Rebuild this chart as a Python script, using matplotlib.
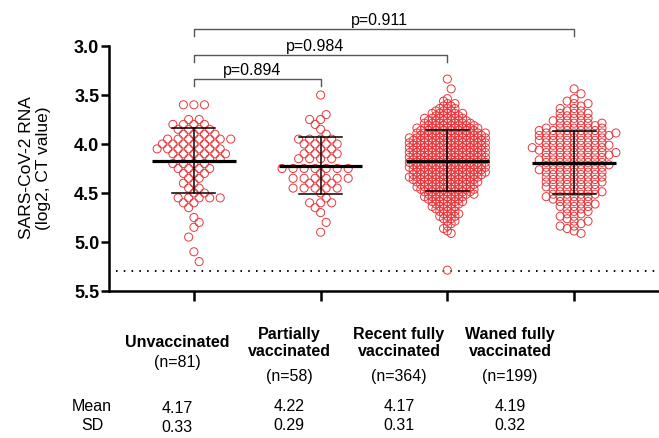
import matplotlib
matplotlib.use("Agg")
import matplotlib.pyplot as plt
import numpy as np

plt.rcParams['font.family'] = ['Liberation Sans', 'DejaVu Sans']

# groups and summary values
groups = ['Unvaccinated', 'Partially\nvaccinated', 'Recent fully\nvaccinated', 'Waned fully\nvaccinated']
n_labels = ['(n=81)', '(n=58)', '(n=364)', '(n=199)']
means = [4.17, 4.22, 4.17, 4.19]
sds = [0.33, 0.29, 0.31, 0.32]

# points per 0.05-wide bin of log2 CT value (bin centres 3.30 ... 5.30)
bin_centers = np.round(np.arange(3.30, 5.301, 0.05), 2)
counts_unvacc = [0, 0, 0, 0, 0, 0, 3, 0, 0, 2, 4, 4, 4, 7, 6, 7, 6, 5, 4, 4, 3, 2, 2, 2, 2, 5, 2, 1, 0, 1, 1, 1, 0, 1, 0, 0, 1, 0, 1, 0, 0]
counts_partial = [0, 0, 0, 0, 1, 0, 0, 0, 1, 2, 1, 1, 1, 4, 4, 3, 4, 4, 0, 7, 1, 6, 3, 5, 1, 1, 3, 1, 1, 0, 1, 0, 1, 0, 0, 0, 0, 0, 0, 0, 0]
counts_recent = [0, 1, 0, 1, 0, 2, 4, 6, 9, 12, 14, 17, 19, 21, 21, 21, 21, 21, 21, 21, 20, 19, 17, 16, 14, 11, 9, 7, 6, 5, 3, 2, 2, 0, 0, 0, 0, 0, 0, 0, 1]
counts_waned = [0, 0, 0, 1, 1, 2, 3, 4, 5, 6, 7, 10, 12, 10, 10, 11, 11, 10, 10, 10, 9, 9, 9, 8, 8, 7, 6, 5, 4, 3, 3, 3, 2, 0, 0, 0, 0, 0, 0, 0, 0]
all_counts = [counts_unvacc, counts_partial, counts_recent, counts_waned]

# p-values for comparisons against unvaccinated
comparisons = [(1, 2, 'p=0.894'), (1, 3, 'p=0.984'), (1, 4, 'p=0.911')]

# layout settings (x spacing in axis units, sub rows per bin)
spacing = [0.083, 0.087, 0.060, 0.110]
sub_rows = [1, 1, 2, 2]
red = '#e8383d'


def swarm(counts, step, nsub):
    xs, ys = [], []
    row = 0
    for c, k in zip(bin_centers, counts):
        for r in range(nsub):
            m = len(range(r, k, nsub))
            if m == 0:
                continue
            dy = (r - (nsub - 1) / 2) * 0.05 / nsub
            # alternate rows between whole and half steps so circles pack
            shift = 0.0
            if (m + 1) % 2 != row % 2:
                shift = step / 2 if (row // 2) % 2 == 0 else -step / 2
            for j in range(m):
                xs.append((j - (m - 1) / 2) * step + shift)
                ys.append(c + dy)
            row += 1
    return np.array(xs), np.array(ys)


def fx(px):
    return px / 659


def fy(py):
    return 1 - py / 439


fig = plt.figure(figsize=(6.59, 4.39), dpi=100)
ax = fig.add_axes([fx(109), fy(292), 1 - fx(109), (292 - 47) / 439])

positions = np.arange(1, 5)
for i, pos in enumerate(positions):
    dx, yv = swarm(all_counts[i], spacing[i], sub_rows[i])
    ax.scatter(pos + dx, yv, s=34, facecolors='none', edgecolors=red, linewidths=0.7, zorder=2, clip_on=False)
    m, sd = means[i], sds[i]
    ax.plot([pos - 0.33, pos + 0.33], [m, m], color='black', lw=2.3, zorder=4, solid_capstyle='butt')
    ax.plot([pos, pos], [m - sd, m + sd], color='black', lw=1.1, zorder=4)
    for yy in (m - sd, m + sd):
        ax.plot([pos - 0.17, pos + 0.17], [yy, yy], color='black', lw=1.1, zorder=4)

# limit of detection
ax.plot([0.385, 4.67], [5.3, 5.3], color='black', lw=1.4, linestyle=(0, (0.8, 3.2)), zorder=1)

# significance brackets
bracket_y = [3.337, 3.092, 2.827]
for (a, b, label), top in zip(comparisons, bracket_y):
    ax.plot([a, a, b, b], [top + 0.075, top, top, top + 0.075], color='#555555', lw=1.0, clip_on=False)
    ax.text((a + b) / 2 - 0.04, top - 0.1, label, ha='center', va='center', fontsize=11.5)

ax.set_ylim(5.5, 3.0)
ax.set_xlim(0.33, 4.67)
ax.set_yticks([3.0, 3.5, 4.0, 4.5, 5.0, 5.5])
ax.set_yticklabels(['3.0', '3.5', '4.0', '4.5', '5.0', '5.5'], fontweight='bold', fontsize=13)
ax.set_xticks(positions)
ax.set_xticklabels([])
ax.tick_params(axis='y', length=6, width=1.8, pad=1)
ax.tick_params(axis='x', length=7.5, width=1.8)
for side in ('top', 'right'):
    ax.spines[side].set_visible(False)
for side in ('left', 'bottom'):
    ax.spines[side].set_linewidth(1.8)

fig.text(fx(35), fy(168), 'SARS-CoV-2 RNA\n(log2, CT value)', rotation=90, ha='center', va='center',
         fontsize=12.5, linespacing=1.1)

# category labels under the axis
label_x = [177, 289, 399, 510]
for i, x in enumerate(label_x):
    if '\n' in groups[i]:
        fig.text(fx(x), fy(343), groups[i], ha='center', va='center', fontsize=11.5, fontweight='bold', linespacing=1.2)
        fig.text(fx(x), fy(377), n_labels[i], ha='center', va='center', fontsize=11.5)
    else:
        fig.text(fx(x), fy(343), groups[i], ha='center', va='center', fontsize=11.5, fontweight='bold')
        fig.text(fx(x), fy(363), n_labels[i], ha='center', va='center', fontsize=11.5)

fig.text(fx(92), fy(407), 'Mean', ha='center', va='center', fontsize=11.5)
fig.text(fx(92), fy(426), 'SD', ha='center', va='center', fontsize=11.5)
value_dy = [2, 0, 0, 0]
for i, x in enumerate(label_x):
    fig.text(fx(x), fy(407 + value_dy[i]), f'{means[i]:.2f}', ha='center', va='center', fontsize=11.5)
    fig.text(fx(x), fy(426 + value_dy[i]), f'{sds[i]:.2f}', ha='center', va='center', fontsize=11.5)

fig.savefig('out.png', dpi=100)
